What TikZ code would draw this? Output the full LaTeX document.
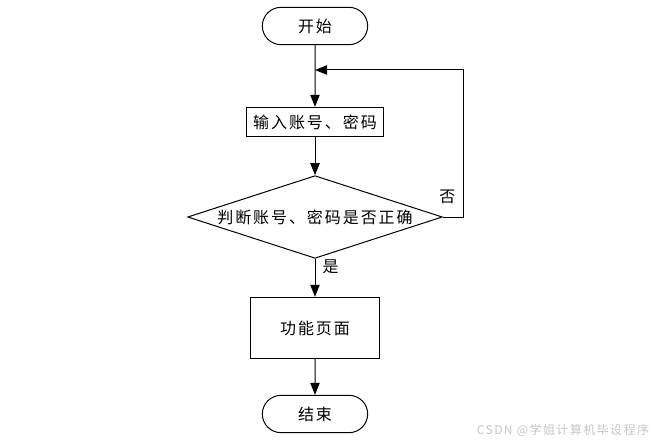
\documentclass[tikz,border=0pt]{standalone}
\usepackage{fontspec}
\setmainfont[LetterSpace=12]{Noto Sans CJK SC}
\usetikzlibrary{shapes.geometric,shapes.misc,arrows.meta}
\begin{document}
\begin{tikzpicture}[x=0.75pt,y=-0.75pt]
    \tikzset{box/.style={draw,line width=0.75pt,font=\fontsize{12}{14}\selectfont,inner sep=0pt},
      term/.style={box,rounded rectangle,minimum width=79pt,minimum height=28pt},
      proc/.style={box,rectangle},
      judge/.style={box,diamond,aspect=3,minimum width=191pt,minimum height=62pt},
      flow/.style={->,line width=0.75pt,>={Triangle[length=9pt,width=7pt]}}}
    \useasboundingbox (0,0) rectangle (655,445);

    \node[term] (start) at (315,26) {开始};
    \node[proc,minimum width=103pt,minimum height=22pt] (input) at (315,122) {输入账号、密码};
    \node[judge] (check) at (315,217) {判断账号、密码是否正确};
    \node[proc,minimum width=97pt,minimum height=46pt] (func) at (315,328) {功能页面};
    \node[term] (end) at (315,414) {结束};
    \coordinate (join) at (315,70);
    \coordinate (back) at (463,70);

    \draw[flow] (start) -- (input);
    \draw[flow] (input) -- (check);
    \draw[flow] (check) -- node[pos=0.2,right,font=\fontsize{12}{14}\selectfont,xshift=2pt] {是} (func);
    \draw[flow] (func) -- (end);
    \draw[flow] (check.east) -| node[pos=0.57,left,font=\fontsize{12}{14}\selectfont,xshift=-2pt] {否} (back) -- (join);

    \node[text=gray!45,font=\fontsize{9}{10}\selectfont,inner sep=0pt] (mark) at (563,430) {CSDN @学姐计算机毕设程序};
  \end{tikzpicture}
\end{document}
